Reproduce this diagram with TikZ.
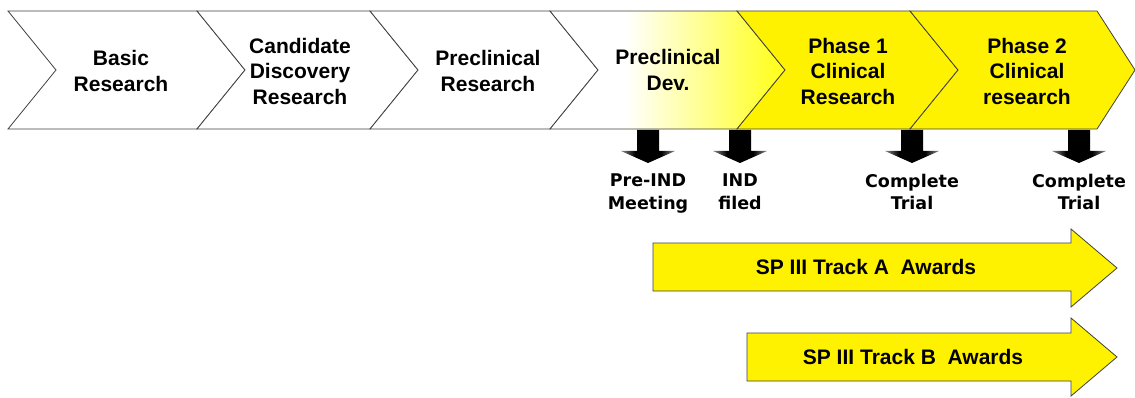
\documentclass[tikz,border=0pt]{standalone}
\usepackage{fontspec}
\setmainfont{Liberation Sans}
\newfontfamily\labelfont{DejaVu Sans}

\pgfdeclarehorizontalshading{preclinshade}{100bp}{color(0bp)=(white); color(41bp)=(white); color(58bp)=(yellow!45); color(78bp)=(yellow); color(100bp)=(yellow)}
\pgfdeclarehorizontalshading{milestoneshade}{100bp}{color(0bp)=(black!45); color(25bp)=(black!45); color(38bp)=(black); color(62bp)=(black); color(75bp)=(black!45); color(100bp)=(black!45)}

\begin{document}
\begin{tikzpicture}[x=1pt, y=-1pt]
  \tikzset{
    chevron/.style={draw=black!75, line width=0.8pt},
    plainchev/.style={fill=white},
    prechev/.style={shade, shading=preclinshade},
    clinchev/.style={fill=yellow},
    phase/.style={align=center, inner sep=0pt, font=\fontsize{21}{25.5}\selectfont\bfseries},
    milestone/.style={shade, shading=milestoneshade},
    mslabel/.style={align=center, inner sep=0pt, anchor=north, font=\labelfont\fontsize{17.5}{22.5}\selectfont\bfseries},
    award/.style={draw=black!75, line width=0.8pt, fill=yellow},
    awardtext/.style={inner sep=0pt, font=\fontsize{21}{25}\selectfont\bfseries}
  }
  \useasboundingbox (0,0) rectangle (1135,398);

  % process chevrons
  \foreach \l/\r/\d/\look in {8/197/48/plainchev, 197/370/48/plainchev, 370/550/48/plainchev, 550/737/48/prechev, 737/910/48/clinchev, 910/1097/38/clinchev}
    \draw[chevron, \look] (\l,11) -- (\r,11) -- (\r+\d,70) -- (\r,129) -- (\l,129) -- (\l+48,70) -- cycle;

  \node[phase] (basic) at (121,71) {Basic\\Research};
  \node[phase] (discovery) at (300,71) {Candidate\\Discovery\\Research};
  \node[phase] (preclin) at (488,71) {Preclinical\\Research};
  \node[phase] (precdev) at (668,70) {Preclinical\\Dev.};
  \node[phase] (phaseone) at (848,71) {Phase 1\\Clinical\\Research};
  \node[phase] (phasetwo) at (1027,71) {Phase 2\\Clinical\\research};

  % milestones
  \foreach \x/\name/\txt in {648/preind/Pre-IND\\Meeting, 740/ind/IND\\filed, 912/doneone/Complete\\Trial, 1079/donetwo/Complete\\Trial} {
    \path[milestone] (\x-11,130) -- (\x+11,130) -- (\x+11,151) -- (\x+27,151) -- (\x,163) -- (\x-27,151) -- (\x-11,151) -- cycle;
    \node[mslabel] (\name) at (\x,174) {\txt};
  }

  % award tracks
  \draw[award] (653,243) -- (1071,243) -- (1071,229) -- (1117,268) -- (1071,307) -- (1071,291) -- (653,291) -- cycle;
  \node[awardtext] (tracka) at (866,267) {SP III Track A\ \ Awards};
  \draw[award] (747,333) -- (1071,333) -- (1071,318) -- (1117,357) -- (1071,396) -- (1071,381) -- (747,381) -- cycle;
  \node[awardtext] (trackb) at (913,357) {SP III Track B\ \ Awards};
\end{tikzpicture}
\end{document}
